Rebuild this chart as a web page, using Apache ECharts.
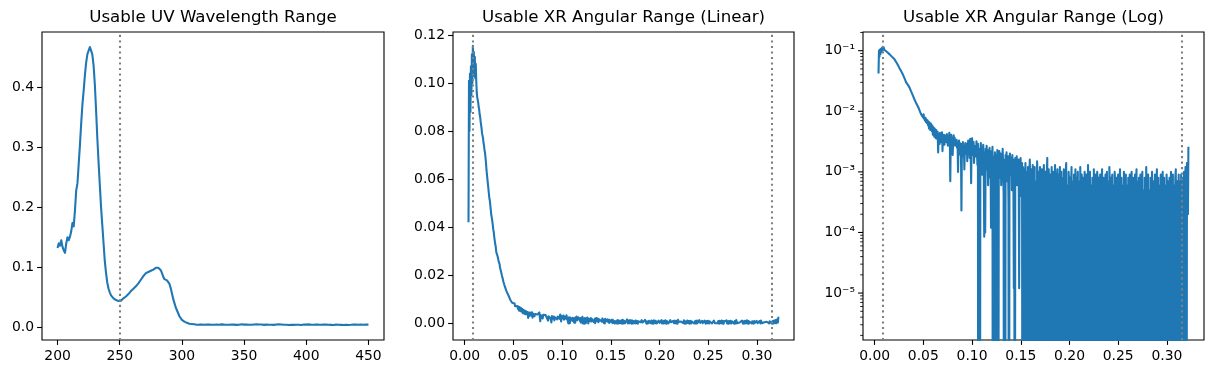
<!DOCTYPE html>
<html><head><meta charset="utf-8">
<script src="https://cdn.jsdelivr.net/npm/echarts@6/dist/echarts.min.js"></script>
<style>html,body{margin:0;padding:0;background:#fff}#c{width:1214px;height:374px}</style>
</head><body><div id="c"></div>
<script>
// ---------- data ----------
const panelTitles = ['Usable UV Wavelength Range', 'Usable XR Angular Range (Linear)', 'Usable XR Angular Range (Log)'];

// UV absorbance, 200..450 nm, 1 nm steps
const uvStart = 200, uvStep = 1;
const uvValues = [
 0.132,0.140,0.136,0.145,0.134,0.128,0.124,0.140,0.150,0.145,0.151,0.160,0.174,0.168,0.195,0.228,0.240,0.272,0.304,0.340,
 0.372,0.395,0.421,0.442,0.456,0.462,0.468,0.462,0.455,0.437,0.405,0.362,0.315,0.275,0.237,0.200,0.170,0.140,0.110,0.090,
 0.074,0.064,0.058,0.053,0.050,0.048,0.046,0.045,0.044,0.0435,0.043,0.044,0.046,0.048,0.050,0.051,0.053,0.055,0.057,0.060,
 0.062,0.064,0.066,0.068,0.070,0.073,0.076,0.079,0.082,0.085,0.088,0.090,0.091,0.092,0.093,0.094,0.095,0.096,0.097,0.099,
 0.099,0.099,0.098,0.095,0.090,0.084,0.080,0.079,0.078,0.077,0.072,0.065,0.056,0.047,0.040,0.033,0.028,0.023,0.018,0.015,
 0.012,0.010,0.009,0.008,0.007,0.006,0.0055,0.005,0.005,0.0045,0.0045,
 0.0042,0.0039,0.0044,0.0040,0.0037,0.0043,0.0041,0.0038,0.0045,0.0040,0.0036,0.0042,0.0044,0.0039,0.0041,0.0037,0.0043,0.0040,0.0046,0.0038,
 0.0041,0.0044,0.0036,0.0040,0.0042,0.0039,0.0045,0.0037,0.0041,0.0043,0.0038,0.0040,0.0044,0.0036,0.0042,0.0039,0.0041,0.0045,0.0038,0.0040,
 0.0037,0.0043,0.0040,0.0038,0.0044,0.0039,0.0036,0.0042,0.0040,0.0045,0.0037,0.0041,0.0039,0.0043,0.0038,0.0036,0.0042,0.0040,0.0044,0.0037,
 0.0041,0.0039,0.0043,0.0036,0.0040,0.0042,0.0038,0.0045,0.0039,0.0041,0.0046,0.0037,0.0040,0.0038,0.0043,0.0035,0.0041,0.0039,0.0042,0.0036,
 0.0040,0.0038,0.0043,0.0037,0.0041,0.0035,0.0039,0.0042,0.0036,0.0040,0.0038,0.0044,0.0035,0.0039,0.0041,0.0037,0.0036,0.0042,0.0038,0.0040,
 0.0035,0.0039,0.0037,0.0042,0.0036,0.0040,0.0034,0.0038,0.0041,0.0036,0.0039,0.0033,0.0037,0.0040,0.0035,0.0038,0.0042,0.0036,0.0039,0.0034,
 0.0038,0.0036,0.0041,0.0035,0.0039,0.0037,0.0033,0.0040,0.0036,0.0042,0.0035,0.0038,0.0036,0.0040,0.0034,0.0039,0.0037,0.0041,0.0036,0.0040
];

// XR reflectivity, evenly sampled from xrStart to xrEnd
const xrStart = 0.004, xrEnd = 0.322;
const xrValues = [
 0.042,0.101,0.080,0.104,0.088,0.107,0.095,0.112,0.100,0.1155,0.104,0.113,0.103,0.111,0.102,0.108,0.101,0.096,0.094,0.093,
 0.092,0.090,0.089,0.087,0.086,0.084,0.084,0.081,0.079,0.078,0.077,0.075,0.074,0.072,0.071,0.069,0.067,0.064,0.062,0.060,
 0.058,0.056,0.054,0.052,0.051,0.049,0.047,0.045,0.044,0.0436,0.041,0.039,0.038,0.036,0.0353,0.033,0.032,0.030,0.029,0.0283,
 0.0278,0.0270,0.0259,0.0252,0.0246,0.0231,0.0228,0.0215,0.0209,0.0197,0.0192,0.0181,0.0172,0.0169,0.0158,0.0155,0.0146,0.0143,0.0134,0.0132,
 0.0128,0.0121,0.0124,0.0112,0.0109,0.0106,0.0097,0.0101,0.0089,0.0092,0.0084,0.0088,0.0079,0.0089,0.0076,0.0081,0.0070,0.0078,0.0066,0.0073,
 0.0064,0.0071,0.0059,0.0068,0.0052,0.0066,0.0058,0.0049,0.0063,0.0055,0.0047,0.0058,0.0041,0.0055,0.0049,0.0038,0.0052,0.0044,0.0036,0.0049,
 0.0043,0.0035,0.0046,0.0021,0.0042,0.0038,0.0029,0.0044,0.0036,0.0040,0.0031,0.0045,0.0022,0.0039,0.0034,0.0041,0.0028,0.0037,0.0033,0.0040,
 0.0031,0.0042,0.0035,0.0027,0.0039,0.0032,0.0044,0.0038,0.0007,0.0033,0.0041,0.0029,0.0036,0.0019,0.0034,0.0040,0.0030,0.0037,0.0027,0.0033,
 0.0029,0.0034,0.0025,0.0031,0.0010,0.0028,0.0033,0.0024,0.0030,0.0019,0.0026,0.00023,0.0029,0.0022,0.0031,0.0018,0.0027,0.0011,0.0024,0.0030,
 0.0026,0.0020,0.0029,0.0015,0.0027,0.0033,0.0021,0.0028,0.0017,0.0035,0.0024,0.00065,0.0030,0.0036,0.0019,0.0026,0.0031,0.0014,0.0027,0.0022,
 0.0025,0.0018,0.0032,0.0021,0.0013,0.0029,-0.0002,0.0024,0.0017,-0.0001,0.0023,0.0030,0.0016,0.0026,0.0009,0.0022,0.0028,0.0014,0.000085,0.0021,
 0.0001,0.0024,0.0015,0.0027,0.0011,0.0019,0.0006,0.0023,0.0016,0.0025,0.0008,0.0020,0.00012,0.0022,0.0013,0.0026,-0.0002,0.0018,0.0010,-0.0003,
 0.0021,0.0014,-0.0001,0.0019,0.0009,0.0023,0.0012,-0.0002,0.0017,0.0022,0.0008,0.0015,0.0020,0.0006,0.0018,0.0011,0.0024,0.0013,0.0004,-0.0003,
 0.0016,-0.0001,0.0019,0.0010,0.0021,0.0007,0.0014,0.0018,0.0003,-0.0002,0.0015,0.0020,0.0009,0.0013,0.0017,0.0005,0.0019,0.0011,0.0016,0.000012,
 0.0014,-0.0002,0.0017,0.0009,0.0012,0.0018,0.0006,0.0015,0.0010,0.0016,0.000012,0.0013,0.0008,0.0017,0.0004,0.0011,0.0014,-0.0001,0.0012,0.0007,
 0.0011,-0.0002,0.0008,0.0014,-0.0001,0.0006,0.0010,-0.0003,0.0012,0.0005,-0.0002,0.0009,0.0016,0.0004,-0.0001,0.0011,0.0007,-0.0003,0.0013,0.0006,
 -0.0002,0.0009,0.0012,-0.0001,0.0007,0.0004,-0.0003,0.0015,0.0008,-0.0002,0.0010,0.0003,-0.0001,0.0012,0.0006,0.0009,-0.0003,0.0011,0.0005,-0.0002,
 0.0008,0.0013,-0.0001,0.0006,0.0010,-0.0002,0.0004,0.0009,0.0017,-0.0003,0.0007,0.0011,0.0005,-0.0001,0.0009,0.0003,-0.0002,0.0012,0.0007,0.0002,
 -0.0002,0.0010,0.0006,-0.0001,0.0013,0.0005,0.0008,-0.0003,0.0007,0.0011,-0.0002,0.0004,0.0009,0.00015,0.0012,-0.0001,0.0006,0.0010,-0.0002,0.0008,
 0.0005,-0.0003,0.0011,0.0007,0.0003,-0.0001,0.0009,0.0014,-0.0002,0.0006,0.0004,-0.0003,0.0010,0.0007,0.000003,0.0008,-0.0001,0.0005,0.0012,-0.0002,
 0.0007,0.0003,-0.0002,0.0009,0.0006,-0.0001,0.0011,0.0004,-0.0003,0.0008,0.0002,0.0010,-0.0002,0.0005,0.0007,-0.0001,0.0012,0.0003,-0.0002,0.0009,
 0.0005,-0.0003,0.0008,0.0004,-0.0001,0.0010,0.0006,0.0002,-0.0002,0.0009,0.0005,-0.0003,0.0013,0.0004,-0.0001,0.0007,0.0010,-0.0002,0.0006,0.0003,
 -0.0002,0.0008,0.0005,-0.0001,0.0011,0.0003,-0.0003,0.0007,0.0009,-0.0002,0.0004,0.0010,0.0006,-0.0001,0.0008,0.0002,-0.0003,0.0009,0.0005,-0.0002,
 0.0007,0.0011,-0.0001,0.0004,0.0008,-0.0002,0.0006,0.0003,0.0009,-0.0003,0.0005,0.0010,-0.0001,0.0007,0.0004,-0.0002,0.0012,0.0006,0.00005,0.0008,
 -0.0003,0.0005,0.0009,-0.0001,0.0006,0.0003,-0.0002,0.0010,0.0007,-0.0003,0.0004,0.0008,0.0002,-0.0001,0.0009,0.0005,-0.0002,0.0007,0.0011,-0.0001,
 0.0004,0.0008,-0.0002,0.0006,0.0003,-0.0003,0.0010,0.0005,-0.0001,0.0007,0.0009,-0.0002,0.0004,0.0006,-0.0001,0.0008,0.0003,-0.0003,0.0009,0.0005,
 -0.0001,0.0007,0.0010,-0.0002,0.0004,0.0008,-0.0003,0.0006,0.0002,0.0009,-0.0001,0.0005,0.0011,-0.0002,0.0007,0.0003,-0.0003,0.0008,0.0006,-0.0001,
 0.0009,0.0004,-0.0002,0.0007,0.0010,-0.0001,0.0005,0.0003,-0.0003,0.0008,0.0006,-0.0002,0.0012,0.0004,-0.0001,0.0007,0.0009,-0.0003,0.0005,0.0002,
 -0.0002,0.0008,0.0006,-0.0001,0.0010,0.0003,-0.0003,0.0007,0.0004,-0.0002,0.0009,0.0005,-0.0001,0.0006,0.0011,-0.0002,0.0004,0.0008,-0.0003,0.0006,
 0.0003,-0.0001,0.0009,0.0005,-0.0002,0.0007,0.0010,-0.0003,0.0004,0.0008,-0.0001,0.0006,0.0003,-0.0002,0.0009,0.0005,-0.0001,0.0007,0.0002,-0.0003,
 0.0008,0.0005,-0.0002,0.0010,0.0004,-0.0001,0.0007,0.0009,-0.0003,0.0006,0.0003,-0.0002,0.0008,0.0011,-0.0001,0.0005,0.0007,-0.0002,0.0004,0.0009,
 -0.0002,0.0007,0.0004,-0.0001,0.0009,0.0005,-0.0003,0.0008,0.0003,-0.0002,0.0010,0.0006,-0.0001,0.0012,0.0011,-0.0001,0.0014,0.0015,0.0002,0.0026
];

const uvCutoffs = [250];
const xrCutoffs = [0.008, 0.315];

const uvXTicks = [200, 250, 300, 350, 400, 450];
const uvYTicks = [0.0, 0.1, 0.2, 0.3, 0.4];
const xrXTicks = [0.00, 0.05, 0.10, 0.15, 0.20, 0.25, 0.30];
const xrYTicks = [0.00, 0.02, 0.04, 0.06, 0.08, 0.10, 0.12];
const logMajorTicks = [1e-5, 1e-4, 1e-3, 1e-2, 1e-1];
const logMinorMantissas = [2, 3, 4, 5, 6, 7, 8, 9];
const logDecades = [1e-6, 1e-5, 1e-4, 1e-3, 1e-2, 1e-1];

// ---------- view limits ----------
const uvXLim = [187.5, 462.5], uvYLim = [-0.0217, 0.4931];
const xrXLim = [-0.0119, 0.3380], xrYLim = [-0.0071, 0.1213];
const logYLim = [1.68e-6, 0.2035];

// ---------- build ----------
const uvData = uvValues.map((v, i) => [uvStart + i * uvStep, v]);
const xrN = xrValues.length;
const xrX = xrValues.map((v, i) => xrStart + (xrEnd - xrStart) * i / (xrN - 1));
const xrData = xrValues.map((v, i) => [xrX[i], v]);
const LOG_CLIP = 1e-12; // non-positive values clipped below the view, like a log plot does
const xrLogData = xrValues.map((v, i) => [xrX[i], v > 0 ? v : LOG_CLIP]);

const tickData = [];
logMajorTicks.forEach(v => tickData.push([xrXLim[0], v, 1]));
logDecades.forEach(d => logMinorMantissas.forEach(m => {
  const v = d * m;
  if (v >= logYLim[0] && v <= logYLim[1]) tickData.push([xrXLim[0], v, 0]);
}));

const FONT = 'DejaVu Sans';
const BLUE = '#1f77b4';
const LW = 2.08;          // 1.5 pt at 100 dpi
const supMap = {'-': '\u207B', '0': '\u2070', '1': '\u00B9', '2': '\u00B2', '3': '\u00B3', '4': '\u2074', '5': '\u2075', '6': '\u2076', '7': '\u2077', '8': '\u2078', '9': '\u2079'};
function sup(n) { return String(n).split('').map(c => supMap[c]).join(''); }

const grids = [
  {left: 42, top: 32, width: 342, height: 308},
  {left: 453, top: 32, width: 341, height: 308},
  {left: 863, top: 32, width: 341, height: 308}
].map(g => Object.assign(g, {show: true, borderColor: '#000', borderWidth: 1.1, backgroundColor: '#fff', containLabel: false}));

const labelStyle = {color: '#000', fontFamily: FONT, fontSize: 13.9};
function valAxis(idx, lim, ticks, fmt, isX) {
  return {
    type: 'value', gridIndex: idx, min: lim[0], max: lim[1],
    axisLine: {show: false, onZero: false}, splitLine: {show: false},
    axisTick: {show: true, inside: false, length: 4.9, customValues: ticks, lineStyle: {color: '#000', width: 1.1}},
    axisLabel: Object.assign({show: true, margin: isX ? 9 : 8, customValues: ticks, formatter: fmt}, labelStyle)
  };
}

const markLineFor = (vals) => ({
  silent: true, symbol: ['none', 'none'], animation: false, precision: 6,
  label: {show: false},
  lineStyle: {color: '#808080', width: LW, type: [LW, 3.43], cap: 'butt'},
  emphasis: {disabled: true},
  data: vals.map(v => ({xAxis: v}))
});

const lineSeries = (xi, data, cut) => ({
  type: 'line', xAxisIndex: xi, yAxisIndex: xi, data: data, showSymbol: false, symbol: 'none',
  clip: true, animation: false, silent: true,
  lineStyle: {color: BLUE, width: LW, join: 'round', cap: 'butt'},
  markLine: markLineFor(cut)
});

const option = {
  animation: false,
  backgroundColor: '#fff',
  title: panelTitles.map((t, i) => ({
    text: t, left: grids[i].left + grids[i].width / 2, top: 9, textAlign: 'center', padding: 0,
    textStyle: {fontFamily: FONT, fontSize: 16.67, fontWeight: 'normal', color: '#000'}
  })),
  grid: grids,
  xAxis: [
    valAxis(0, uvXLim, uvXTicks, v => String(Math.round(v)), true),
    valAxis(1, xrXLim, xrXTicks, v => v.toFixed(2), true),
    valAxis(2, xrXLim, xrXTicks, v => v.toFixed(2), true)
  ],
  yAxis: [
    valAxis(0, uvYLim, uvYTicks, v => v.toFixed(1), false),
    valAxis(1, xrYLim, xrYTicks, v => v.toFixed(2), false),
    {
      type: 'log', logBase: 10, gridIndex: 2, min: logYLim[0], max: logYLim[1],
      axisLine: {show: false, onZero: false}, splitLine: {show: false}, axisTick: {show: false},
      axisLabel: Object.assign({show: true, margin: 8, showMinLabel: false, showMaxLabel: false,
        formatter: v => '10' + sup(Math.round(Math.log10(v)))}, labelStyle)
    }
  ],
  series: [
    lineSeries(0, uvData, uvCutoffs),
    lineSeries(1, xrData, xrCutoffs),
    lineSeries(2, xrLogData, xrCutoffs),
    {
      type: 'custom', xAxisIndex: 2, yAxisIndex: 2, clip: false, silent: true, animation: false,
      data: tickData,
      renderItem: (params, api) => {
        const p = api.coord([api.value(0), api.value(1)]);
        const major = api.value(2) === 1;
        const len = major ? 4.9 : 2.8;
        return {type: 'line', shape: {x1: p[0] - len, y1: p[1], x2: p[0], y2: p[1]},
          style: {stroke: '#000', lineWidth: major ? 1.1 : 0.85}};
      }
    }
  ]
};

const chart = echarts.init(document.getElementById('c'), null, {renderer: 'canvas'});
chart.setOption(option);
</script>
</body></html>
